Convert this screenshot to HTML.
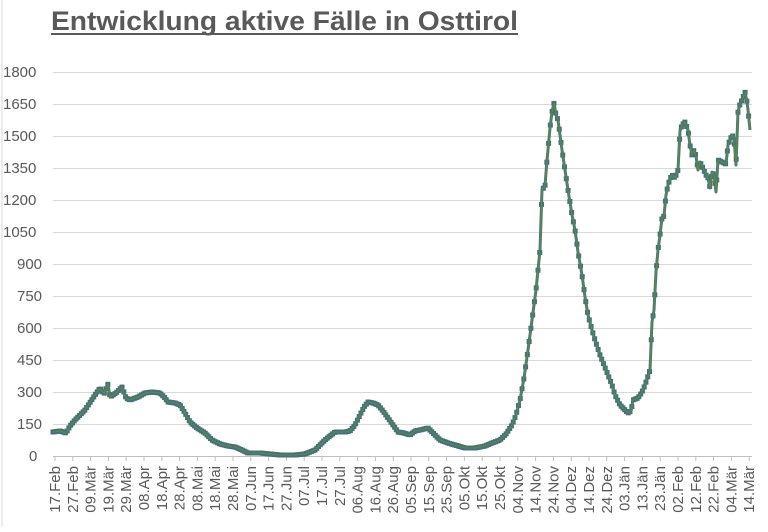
<!DOCTYPE html>
<html><head><meta charset="utf-8"><style>
body{margin:0;background:#fff;width:768px;height:527px;overflow:hidden;font-family:"Liberation Sans",sans-serif}
</style></head><body>
<svg id="s" width="768" height="527" xmlns="http://www.w3.org/2000/svg" font-family="Liberation Sans, sans-serif">
<rect x="0" y="0" width="768" height="527" fill="#fff"/>
<line x1="2" y1="0" x2="2" y2="527" stroke="#d9d9d9"/>
<text x="51" y="30" font-size="27" font-weight="bold" fill="#595959" textLength="467" lengthAdjust="spacingAndGlyphs">Entwicklung aktive Fälle in Osttirol</text>
<line x1="51" y1="34" x2="518" y2="34" stroke="#595959" stroke-width="2"/>
<g id="grid" stroke="#d9d9d9" stroke-width="1"></g>
<g id="ylab" font-size="15" fill="#595959"></g>
<g id="xlab" font-size="15" fill="#595959"></g>
<g id="ser"></g>
</svg>
<script>
var NS="http://www.w3.org/2000/svg";
function el(p,n,a,t){var e=document.createElementNS(NS,n);for(var k in a)e.setAttribute(k,a[k]);if(t)e.textContent=t;document.getElementById(p).appendChild(e);return e;}
for(var i=0;i<=12;i++){var y=456-i*32;
 el("grid","line",{x1:53,x2:752,y1:y+0.5,y2:y+0.5,stroke:i==0?"#bfbfbf":"#d9d9d9"});
 el("ylab","text",{x:i==0?29:(i*150<1000?17:3),y:y+5},String(i*150));}
var labs=["17.Feb","27.Feb","09.Mär","19.Mär","29.Mär","08.Apr","18.Apr","28.Apr","08.Mai","18.Mai","28.Mai","07.Jun","17.Jun","27.Jun","07.Jul","17.Jul","27.Jul","06.Aug","16.Aug","26.Aug","05.Sep","15.Sep","25.Sep","05.Okt","15.Okt","25.Okt","04.Nov","14.Nov","24.Nov","04.Dez","14.Dez","24.Dez","03.Jän","13.Jän","23.Jän","02.Feb","12.Feb","22.Feb","04.Mär","14.Mär"];
for(var i=0;i<labs.length;i++){var x=55+i*17.8;
 el("grid","line",{x1:x,x2:x,y1:456,y2:461,stroke:"#bfbfbf"});
 el("xlab","text",{x:0,y:0,"text-anchor":"end",transform:"translate("+(x+5)+",466) rotate(-90)"},labs[i]);}
var P=[[53,432],[60,431],[66,433],[70,426],[75,420],[85,410],[95,395],[100,388],[104,394],[108,384],[110,397],[116,393],[122,387],[126,398],[130,400],[138,397],[145,393],[152,392],[160,393],[165,398],[168,402],[175,403],[180,405],[185,413],[190,422],[197,428],[205,433],[212,440],[220,444],[228,446],[235,447],[242,450],[248,453],[260,453],[270,454],[280,455],[295,455],[305,454],[310,452],[315,450],[320,445],[325,440],[330,436],[335,432],[345,432],[350,431],[355,425],[360,415],[364,407],[368,402],[373,403],[378,405],[383,411],[388,418],[393,425],[398,432],[404,433],[410,435],[415,431],[420,430],[428,428],[434,434],[440,440],[448,443],[455,445],[465,448],[475,448],[485,446],[492,443],[500,440],[506,434],[512,425],[516,415],[520,400],[524,378],[528,350],[532,320],[536,290],[538,270],[540,250],[542,190],[545,186],[547,160],[548,150],[550,128],[552,112],[554,103],[556,115],[558,120],[560,135],[562,150],[565,170],[568,190],[572,215],[575,230],[578,252],[582,275],[585,297],[588,315],[592,330],[595,340],[600,355],[604,365],[608,375],[612,385],[615,395],[620,405],[625,410],[628,413],[631,411],[633,400],[638,398],[642,392],[645,385],[648,376],[650,370],[652,322],[654,310],[656,272],[658,250],[660,235],[662,218],[664,216],[666,195],[668,185],[670,179],[672,175],[675,178],[678,170],[680,131],[682,125],[685,122],[688,130],[690,145],[692,155],[694,150],[696,156],[698,170],[700,162],[702,166],[706,175],[708,178],[710,188],[712,172],[714,175],[716,192],[718,160],[722,162],[726,164],[728,145],[732,135],[734,138],[736,165],[738,112],[740,104],[742,100],[745,92],[747,102],[748,110],[750,130]];
var pts=P.map(function(p){return p.join(",")}).join(" ");
el("ser","polyline",{points:pts,fill:"none",stroke:"#4a7585","stroke-width":3,"stroke-linejoin":"round"});
function interp(x){for(var i=1;i<P.length;i++){if(P[i][0]>=x){var a=P[i-1],b=P[i];var t=(x-a[0])/((b[0]-a[0])||1);return a[1]+t*(b[1]-a[1]);}}return P[P.length-1][1];}
for(var x=53;x<=750;x+=1.77){var y=interp(x);el("ser","rect",{x:x-2.5,y:y-2.5,width:5,height:5,fill:"#45707f"});}
el("ser","polyline",{points:pts,fill:"none",stroke:"#5e8c3a","stroke-width":1.3,"stroke-linejoin":"round",opacity:0.9});
</script>
</body></html>
